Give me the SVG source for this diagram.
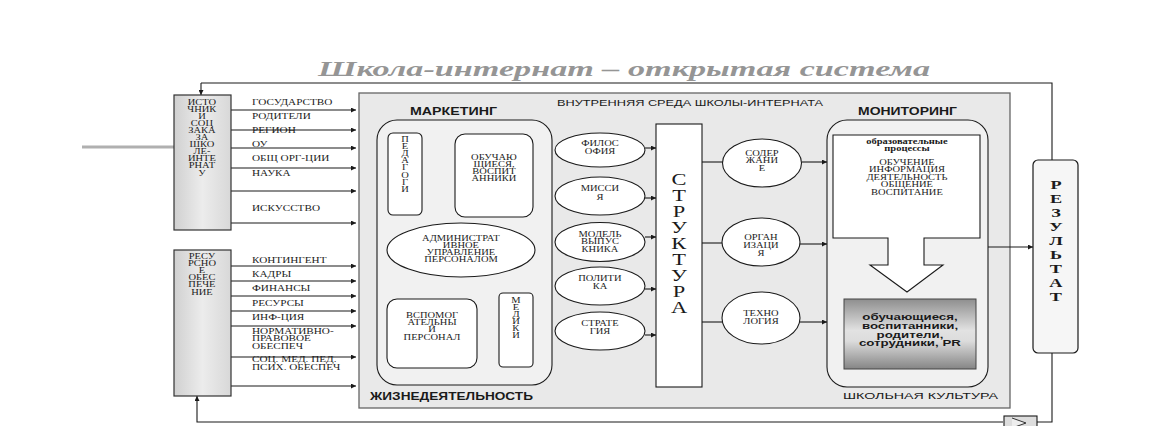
<svg xmlns="http://www.w3.org/2000/svg" width="1161" height="426" viewBox="0 0 1161 426">
<style>
.t{font-family:"Liberation Serif","Times New Roman",serif;font-size:8px;fill:#1a1a1a;transform-box:fill-box;transform:scaleX(1.4)}
.b7{font-size:7.5px}
.b6{font-size:7.5px}
.m{text-anchor:middle;transform-origin:center}
.l{transform-origin:left center}
.h{font-family:"Liberation Sans",Arial,sans-serif;font-size:10px;font-weight:bold;fill:#1a1a1a}
.n{font-family:"Liberation Sans",Arial,sans-serif;font-size:9.5px;fill:#1a1a1a}
.g{font-family:"Liberation Sans",Arial,sans-serif;font-size:9.5px;font-weight:bold;fill:#1a1a1a;text-anchor:middle;transform-box:fill-box;transform-origin:center;transform:scaleX(1.4)}
.big{font-size:16px}
.res{font-size:13px;font-weight:bold}
.ln{stroke:#1a1a1a;stroke-width:1.1;fill:none}
.ar{stroke:#1a1a1a;stroke-width:1.1;fill:none;marker-end:url(#ah)}
.bx{fill:#fff;stroke:#1a1a1a;stroke-width:1.1}
.src{stroke:#333;stroke-width:1.2}
</style>
<defs>
<marker id="ah" viewBox="0 0 10 10" refX="10" refY="5" markerWidth="8" markerHeight="5" markerUnits="userSpaceOnUse" orient="auto"><path d="M0,0 L10,5 L0,10 z" fill="#1a1a1a"/></marker>
<linearGradient id="gg" x1="0" y1="0" x2="0" y2="1"><stop offset="0" stop-color="#8e8e8e"/><stop offset="0.45" stop-color="#e2e2e2"/><stop offset="0.6" stop-color="#dcdcdc"/><stop offset="1" stop-color="#858585"/></linearGradient>
<linearGradient id="sg" x1="0" y1="0" x2="1" y2="0"><stop offset="0" stop-color="#d0d0d0"/><stop offset="0.5" stop-color="#ececec"/><stop offset="1" stop-color="#d8d8d8"/></linearGradient>
</defs>
<rect width="1161" height="426" fill="#fff"/>
<line x1="82" y1="147" x2="174" y2="147" stroke="#b0b0b0" stroke-width="3"/>
<text x="318" y="76" font-family="Liberation Serif,serif" font-style="italic" font-weight="bold" font-size="21" fill="#959595" textLength="612" lengthAdjust="spacingAndGlyphs">Школа-интернат – открытая система</text>

<g id="environment">
<rect x="359" y="93" width="651" height="315" fill="#e9e9e9" stroke="#666" stroke-width="1.3"/>
<text class="n" x="557" y="106" textLength="266" lengthAdjust="spacingAndGlyphs">ВНУТРЕННЯЯ СРЕДА ШКОЛЫ-ИНТЕРНАТА</text>
</g>

<g id="connectors">
<polyline class="ln" points="1052,160 1052,83 201,83"/>
<line class="ar" x1="201" y1="83" x2="201" y2="95"/>
<polyline class="ln" points="1052,353 1052,422 1037,422"/>
<polyline class="ar" points="1003,422 197,422 197,396"/>
<line class="ar" x1="231" y1="110" x2="356" y2="110"/>
<line class="ar" x1="231" y1="130" x2="356" y2="130"/>
<line class="ar" x1="231" y1="148" x2="356" y2="148"/>
<line class="ar" x1="231" y1="168" x2="356" y2="168"/>
<line class="ar" x1="231" y1="191" x2="356" y2="191"/>
<line class="ar" x1="231" y1="223" x2="356" y2="223"/>
<line class="ar" x1="231" y1="266" x2="356" y2="266"/>
<line class="ar" x1="231" y1="281" x2="356" y2="281"/>
<line class="ar" x1="231" y1="296" x2="356" y2="296"/>
<line class="ar" x1="231" y1="311" x2="356" y2="311"/>
<line class="ar" x1="231" y1="326" x2="356" y2="326"/>
<line class="ar" x1="231" y1="357" x2="356" y2="357"/>
<line class="ar" x1="231" y1="386" x2="356" y2="386"/>
<line class="ar" x1="645" y1="148" x2="656" y2="148"/>
<line class="ar" x1="645" y1="198" x2="656" y2="198"/>
<line class="ar" x1="645" y1="237" x2="656" y2="237"/>
<line class="ar" x1="645" y1="289" x2="656" y2="289"/>
<line class="ar" x1="645" y1="335" x2="656" y2="335"/>
<line class="ln" x1="702" y1="162" x2="723" y2="162"/>
<line class="ln" x1="702" y1="243" x2="722" y2="243"/>
<line class="ln" x1="702" y1="322" x2="722" y2="322"/>
<line class="ar" x1="802" y1="162" x2="827" y2="162"/>
<line class="ar" x1="800" y1="244" x2="827" y2="244"/>
<line class="ar" x1="800" y1="322" x2="827" y2="322"/>
<line class="ar" x1="988" y1="247" x2="1033" y2="247"/>
</g>

<g id="feedback-box">
<rect x="1004" y="416" width="33" height="14" fill="#ddd" stroke="#1a1a1a" stroke-width="1.1"/>
<path d="M1012,418 L1026,423 L1012,428" fill="#eee" stroke="#333" stroke-width="1"/>
</g>

<g id="sources">
<rect class="src" x="174" y="95" width="57" height="135" fill="url(#sg)"/>
<text class="t b6 m" x="202" y="105">ИСТО</text>
<text class="t b6 m" x="202" y="112">ЧНИК</text>
<text class="t b6 m" x="202" y="119">И</text>
<text class="t b6 m" x="202" y="126">СОЦ</text>
<text class="t b6 m" x="202" y="133.5">ЗАКА</text>
<text class="t b6 m" x="202" y="140.5">ЗА</text>
<text class="t b6 m" x="202" y="147.5">ШКО</text>
<text class="t b6 m" x="202" y="154.5">ЛЕ-</text>
<text class="t b6 m" x="202" y="161.5">ИНТЕ</text>
<text class="t b6 m" x="202" y="168.5">РНАТ</text>
<text class="t b6 m" x="202" y="176">У</text>
</g>
<g id="source-labels">
<text class="t l" x="252" y="105">ГОСУДАРСТВО</text>
<text class="t l" x="252" y="119">РОДИТЕЛИ</text>
<text class="t l" x="252" y="133">РЕГИОН</text>
<text class="t l" x="252" y="147">ОУ</text>
<text class="t l" x="252" y="161">ОБЩ ОРГ-ЦИИ</text>
<text class="t l" x="252" y="176">НАУКА</text>
<text class="t l" x="252" y="211">ИСКУССТВО</text>
</g>

<g id="resources">
<rect class="src" x="174" y="250" width="57" height="146" fill="url(#sg)"/>
<text class="t b6 m" x="202" y="259">РЕСУ</text>
<text class="t b6 m" x="202" y="266.5">РСНО</text>
<text class="t b6 m" x="202" y="273.5">Е</text>
<text class="t b6 m" x="202" y="280.5">ОБЕС</text>
<text class="t b6 m" x="202" y="287.5">ПЕЧЕ</text>
<text class="t b6 m" x="202" y="295">НИЕ</text>
</g>
<g id="resource-labels">
<text class="t l" x="252" y="263">КОНТИНГЕНТ</text>
<text class="t l" x="252" y="277">КАДРЫ</text>
<text class="t l" x="252" y="291">ФИНАНСЫ</text>
<text class="t l" x="252" y="306">РЕСУРСЫ</text>
<text class="t l" x="252" y="320">ИНФ-ЦИЯ</text>
<text class="t l" x="252" y="334">НОРМАТИВНО-</text>
<text class="t l" x="252" y="341.5">ПРАВОВОЕ</text>
<text class="t l" x="252" y="349">ОБЕСПЕЧ</text>
<text class="t l" x="252" y="362">СОЦ. МЕД. ПЕД.</text>
<text class="t l" x="252" y="370">ПСИХ. ОБЕСПЕЧ</text>
</g>

<g id="marketing">
<text class="h" x="410" y="115" textLength="87" lengthAdjust="spacingAndGlyphs">МАРКЕТИНГ</text>
<rect x="377" y="120" width="175" height="265" rx="20" fill="#f1f1f1" stroke="#1a1a1a" stroke-width="1.1"/>
<text class="h" x="370" y="400" textLength="163" lengthAdjust="spacingAndGlyphs">ЖИЗНЕДЕЯТЕЛЬНОСТЬ</text>
</g>
<g id="pedagogi">
<rect class="bx" x="388" y="133" width="34" height="82" rx="5"/>
<text class="t b6 m" x="405" y="142">П</text>
<text class="t b6 m" x="405" y="149">Е</text>
<text class="t b6 m" x="405" y="156.3">Д</text>
<text class="t b6 m" x="405" y="163.4">А</text>
<text class="t b6 m" x="405" y="170.5">Г</text>
<text class="t b6 m" x="405" y="177.7">О</text>
<text class="t b6 m" x="405" y="184.8">Г</text>
<text class="t b6 m" x="405" y="192">И</text>
</g>
<g id="students">
<rect class="bx" x="455" y="134" width="78" height="83" rx="10"/>
<text class="t b7 m" x="494" y="160">ОБУЧАЮ</text>
<text class="t b7 m" x="494" y="167.5">ЩИЕСЯ,</text>
<text class="t b7 m" x="494" y="174.5">ВОСПИТ</text>
<text class="t b7 m" x="494" y="181.5">АННИКИ</text>
</g>
<g id="admin">
<ellipse class="bx" cx="461" cy="250" rx="74" ry="27"/>
<text class="t b7 m" x="461" y="241">АДМИНИСТРАТ</text>
<text class="t b7 m" x="461" y="248">ИВНОЕ</text>
<text class="t b7 m" x="461" y="255">УПРАВЛЕНИЕ</text>
<text class="t b7 m" x="461" y="262">ПЕРСОНАЛОМ</text>
</g>
<g id="support">
<rect class="bx" x="387" y="299" width="90" height="69" rx="10"/>
<text class="t b7 m" x="432" y="318">ВСПОМОГ</text>
<text class="t b7 m" x="432" y="325">АТЕЛЬНЫ</text>
<text class="t b7 m" x="432" y="332">Й</text>
<text class="t b7 m" x="432" y="340">ПЕРСОНАЛ</text>
</g>
<g id="medics">
<rect class="bx" x="499" y="293" width="34" height="74" rx="4"/>
<text class="t b6 m" x="516" y="303">М</text>
<text class="t b6 m" x="516" y="310">Е</text>
<text class="t b6 m" x="516" y="317">Д</text>
<text class="t b6 m" x="516" y="324">И</text>
<text class="t b6 m" x="516" y="331">К</text>
<text class="t b6 m" x="516" y="338">И</text>
</g>

<g id="philosophy">
<ellipse class="bx" cx="600" cy="150" rx="45" ry="17"/>
<text class="t b7 m" x="600" y="146">ФИЛОС</text>
<text class="t b7 m" x="600" y="154">ОФИЯ</text>
</g>
<g id="mission">
<ellipse class="bx" cx="600" cy="196" rx="45" ry="19"/>
<text class="t b7 m" x="600" y="191">МИССИ</text>
<text class="t b7 m" x="600" y="200">Я</text>
</g>
<g id="graduate">
<ellipse class="bx" cx="600" cy="242" rx="45" ry="19.5"/>
<text class="t b7 m" x="600" y="237">МОДЕЛЬ</text>
<text class="t b7 m" x="600" y="244.5">ВЫПУС</text>
<text class="t b7 m" x="600" y="252">КНИКА</text>
</g>
<g id="policy">
<ellipse class="bx" cx="600" cy="286" rx="45" ry="19"/>
<text class="t b7 m" x="600" y="281">ПОЛИТИ</text>
<text class="t b7 m" x="600" y="289">КА</text>
</g>
<g id="strategy">
<ellipse class="bx" cx="600" cy="331" rx="45" ry="19"/>
<text class="t b7 m" x="600" y="326">СТРАТЕ</text>
<text class="t b7 m" x="600" y="334">ГИЯ</text>
</g>

<g id="structure">
<rect class="bx" x="656" y="124" width="46" height="263"/>
<text class="t big m" x="679" y="185.5">С</text>
<text class="t big m" x="679" y="201.5">Т</text>
<text class="t big m" x="679" y="217.5">Р</text>
<text class="t big m" x="679" y="233.5">У</text>
<text class="t big m" x="679" y="249.5">К</text>
<text class="t big m" x="679" y="265.5">Т</text>
<text class="t big m" x="679" y="281.5">У</text>
<text class="t big m" x="679" y="297.5">Р</text>
<text class="t big m" x="679" y="313.5">А</text>
</g>

<g id="content">
<ellipse class="bx" cx="762" cy="163" rx="39.5" ry="24"/>
<text class="t b7 m" x="762" y="156">СОДЕР</text>
<text class="t b7 m" x="762" y="163.5">ЖАНИ</text>
<text class="t b7 m" x="762" y="171">Е</text>
</g>
<g id="organization">
<ellipse class="bx" cx="761" cy="242" rx="39" ry="24"/>
<text class="t b7 m" x="761" y="240">ОРГАН</text>
<text class="t b7 m" x="761" y="248">ИЗАЦИ</text>
<text class="t b7 m" x="761" y="256">Я</text>
</g>
<g id="technology">
<ellipse class="bx" cx="761" cy="318" rx="39" ry="26"/>
<text class="t b7 m" x="761" y="316">ТЕХНО</text>
<text class="t b7 m" x="761" y="324">ЛОГИЯ</text>
</g>

<g id="monitoring">
<text class="h" x="858" y="115" textLength="99" lengthAdjust="spacingAndGlyphs">МОНИТОРИНГ</text>
<rect x="827" y="120" width="161" height="267" rx="20" fill="#f1f1f1" stroke="#1a1a1a" stroke-width="1.1"/>
<text class="n" x="843" y="399" textLength="155" lengthAdjust="spacingAndGlyphs">ШКОЛЬНАЯ КУЛЬТУРА</text>
</g>
<g id="processes">
<path class="bx" d="M833,135 H980 V238 H924 V265 H943 L907,292 L870,265 H888 V238 H833 Z"/>
<text class="t b7 m" x="907" y="144.5" font-weight="bold">образовательные</text>
<text class="t b7 m" x="907" y="151.5" font-weight="bold">процессы</text>
<text class="t b7 m" x="907" y="165">ОБУЧЕНИЕ</text>
<text class="t b7 m" x="907" y="172.5">ИНФОРМАЦИЯ</text>
<text class="t b7 m" x="907" y="180">ДЕЯТЕЛЬНОСТЬ</text>
<text class="t b7 m" x="907" y="187.5">ОБЩЕНИЕ</text>
<text class="t b7 m" x="907" y="195">ВОСПИТАНИЕ</text>
</g>
<g id="participants">
<rect x="844" y="299" width="132" height="70" fill="url(#gg)" stroke="#444" stroke-width="1"/>
<text class="g" x="910" y="320.5">обучающиеся,</text>
<text class="g" x="910" y="329.5">воспитанники,</text>
<text class="g" x="910" y="338">родители,</text>
<text class="g" x="910" y="346.5">сотрудники, PR</text>
</g>

<g id="result">
<rect x="1033" y="160" width="45" height="193" rx="5" fill="#f6f6f6" stroke="#1a1a1a" stroke-width="1.2"/>
<text class="t res m" x="1056" y="189.5">Р</text>
<text class="t res m" x="1056" y="203.5">Е</text>
<text class="t res m" x="1056" y="217.5">З</text>
<text class="t res m" x="1056" y="231.5">У</text>
<text class="t res m" x="1056" y="245.5">Л</text>
<text class="t res m" x="1056" y="259.5">Ь</text>
<text class="t res m" x="1056" y="273.5">Т</text>
<text class="t res m" x="1056" y="287.5">А</text>
<text class="t res m" x="1056" y="301.5">Т</text>
</g>
</svg>
